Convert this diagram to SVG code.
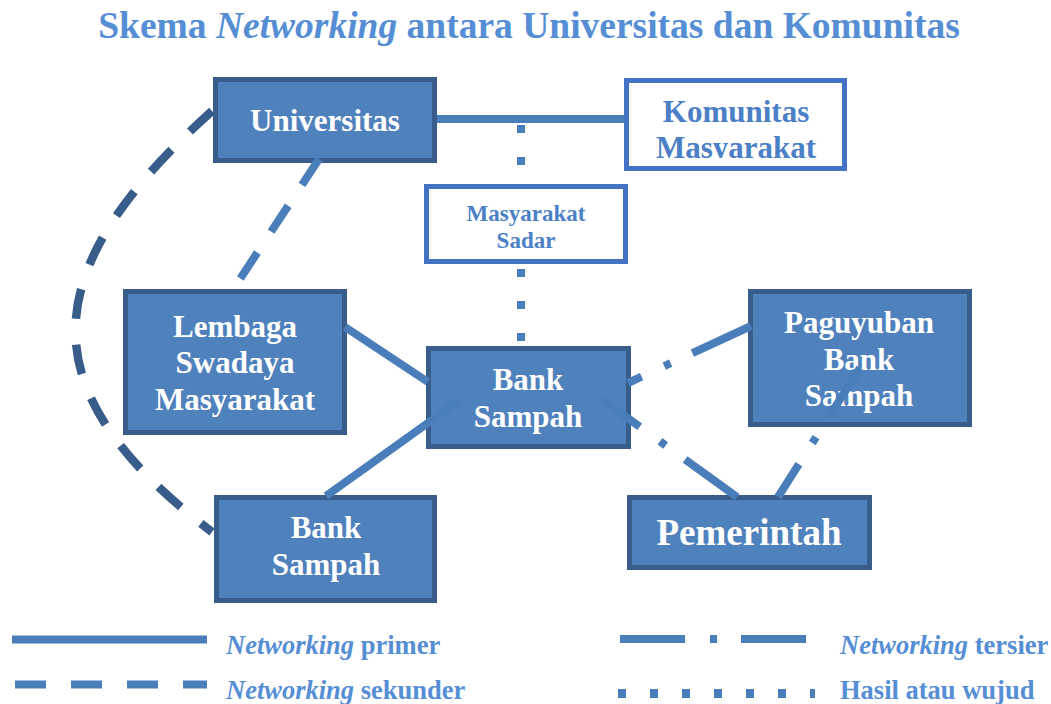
<svg xmlns="http://www.w3.org/2000/svg" width="1051" height="704" viewBox="0 0 1051 704">
<style>
.t{font-family:"Liberation Serif","Times New Roman",serif;font-weight:bold;text-anchor:middle}
.w{fill:#FFFFFF;font-size:31px}
.b{fill:#4B7FC6}
.fill{fill:#4F81BD;stroke:#385D8A;stroke-width:5}
.open{fill:#FFFFFF;stroke:#4472C4;stroke-width:5}
.c{fill:none;stroke:#4A7EBB;stroke-width:8}
.prim{}
.sek{stroke-dasharray:31 25}
.sekd{stroke:#385D8A;stroke-width:8.5;stroke-dasharray:30 26}
.ter{stroke-dasharray:65 25 7 24}
.dot{stroke-dasharray:8 24}
.lg{font-family:"Liberation Serif","Times New Roman",serif;font-weight:bold;font-size:26.5px;fill:#558ED5}
</style>
<defs>
<clipPath id="kclip"><rect x="629" y="83" width="213" height="75"/></clipPath>
</defs>
<text class="t" x="529" y="38" style="font-size:37.5px;fill:#558ED5">Skema <tspan font-style="italic">Networking</tspan> antara Universitas dan Komunitas</text>

<g id="universitas">
<rect class="fill" x="215.5" y="79.5" width="219" height="81"/>
<text class="t w" x="325" y="131">Universitas</text>
</g>
<g id="komunitas">
<rect class="open" x="626.5" y="80.5" width="218" height="88"/>
<g clip-path="url(#kclip)">
<text class="t b" x="736" y="122" font-size="31">Komunitas</text>
<text class="t b" x="736" y="157.5" font-size="31">Masyarakat</text>
</g>
</g>
<g id="masyarakat-sadar">
<rect class="open" x="426.5" y="186.5" width="199" height="75"/>
<text class="t b" x="526" y="221" font-size="23">Masyarakat</text>
<text class="t b" x="526" y="248" font-size="23">Sadar</text>
</g>
<g id="lsm">
<rect class="fill" x="125.5" y="291.5" width="219" height="141"/>
<text class="t w" x="235" y="337">Lembaga</text>
<text class="t w" x="235" y="373">Swadaya</text>
<text class="t w" x="235" y="410">Masyarakat</text>
</g>
<g id="bank-sampah-pusat">
<rect class="fill" x="428.5" y="348.5" width="200" height="98"/>
<text class="t w" x="528" y="390">Bank</text>
<text class="t w" x="528" y="427">Sampah</text>
</g>
<g id="bank-sampah">
<rect class="fill" x="216.5" y="497.5" width="218" height="103"/>
<text class="t w" x="326" y="538">Bank</text>
<text class="t w" x="326" y="575">Sampah</text>
</g>
<g id="paguyuban">
<rect class="fill" x="750.5" y="291.5" width="219" height="133"/>
<text class="t w" x="859" y="333">Paguyuban</text>
<text class="t w" x="859" y="370">Bank</text>
<text class="t w" x="859" y="406">Sampah</text>
</g>
<g id="pemerintah">
<rect class="fill" x="629.5" y="497.5" width="240" height="70"/>
<text class="t w" x="749" y="545" style="font-size:37px">Pemerintah</text>
</g>

<g id="connectors">
<line class="c prim" x1="437" y1="119" x2="624" y2="119"/>
<line class="c prim" x1="345" y1="327" x2="428" y2="382"/>
<line class="c prim" x1="326" y1="496" x2="460" y2="400"/>
<line class="c sek" x1="319" y1="159" x2="238" y2="282"/>
<path class="c sekd" d="M212 111 C35 270 25 390 212 532"/>
<line class="c ter" x1="628" y1="383" x2="751" y2="326" stroke-dashoffset="50"/>
<line class="c ter" x1="600" y1="398" x2="737" y2="497" stroke-dashoffset="16"/>
<line class="c ter" x1="778" y1="497" x2="860" y2="368" stroke-dashoffset="26"/>
<line class="c dot" x1="521" y1="125" x2="521" y2="183"/>
<line class="c dot" x1="521" y1="269" x2="521" y2="345"/>
</g>

<g id="legend">
<line class="c prim" x1="12" y1="639.5" x2="207" y2="639.5"/>
<line class="c sek" x1="15" y1="684.5" x2="207" y2="684.5"/>
<line class="c ter" x1="620" y1="639" x2="806" y2="639"/>
<line class="c dot" x1="618" y1="693.5" x2="815" y2="693.5" style="stroke-width:9"/>
<text class="lg" x="226" y="654"><tspan font-style="italic">Networking</tspan> primer</text>
<text class="lg" x="226" y="699"><tspan font-style="italic">Networking</tspan> sekunder</text>
<text class="lg" x="840" y="654"><tspan font-style="italic">Networking</tspan> tersier</text>
<text class="lg" x="840" y="699">Hasil atau wujud</text>
</g>
</svg>
